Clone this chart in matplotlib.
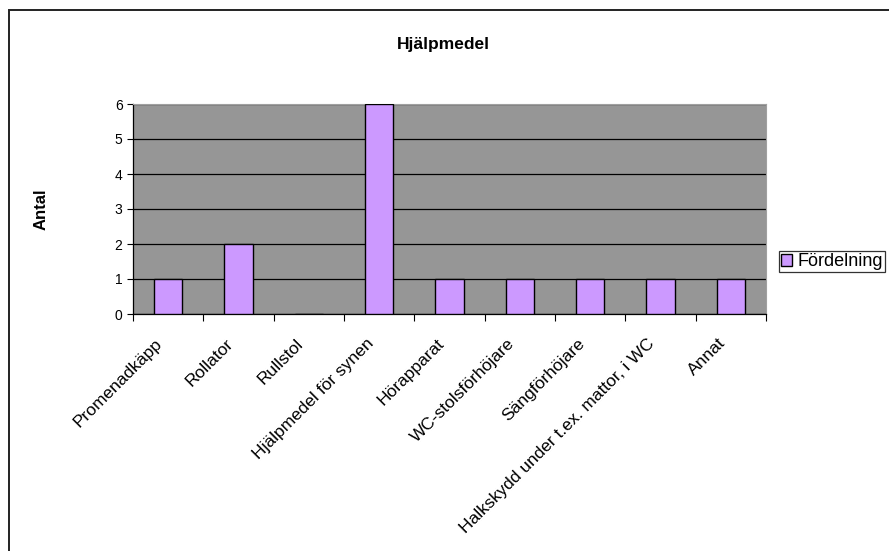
import matplotlib
matplotlib.use("Agg")
import matplotlib.pyplot as plt
from matplotlib.patches import Rectangle
from matplotlib.transforms import ScaledTranslation

categories = ["Promenadkäpp", "Rollator", "Rullstol", "Hjälpmedel för synen",
              "Hörapparat", "WC-stolsförhöjare", "Sängförhöjare",
              "Halkskydd under t.ex. mattor, i WC", "Annat"]
values = [1, 2, 0, 6, 1, 1, 1, 1, 1]
series_name = "Fördelning"
title = "Hjälpmedel"
ylabel = "Antal"
yticks = [0, 1, 2, 3, 4, 5, 6]

plt.rcParams['font.family'] = ['Liberation Sans', 'DejaVu Sans']

W, H = 889, 551
fig = plt.figure(figsize=(W / 100, H / 100), dpi=100)
fig.patch.set_facecolor("white")

# outer chart frame
fig.add_artist(Rectangle((9 / W, -0.05), 1.2, 1 - 10 / H + 0.05, transform=fig.transFigure,
                         fill=False, edgecolor="#222222", linewidth=1.4))

left, right, top, bottom = 133, 766, 104, 314
ax = fig.add_axes([left / W, 1 - bottom / H, (right - left) / W, (bottom - top) / H])
ax.set_facecolor("#969696")

x = list(range(len(categories)))
bars = ax.bar(x, values, width=0.4, color="#CC99FF", edgecolor="black", linewidth=1.0,
              label=series_name, zorder=3)
ax.set_xlim(-0.5, len(categories) - 0.5)
ax.set_ylim(0, 6)
ax.set_yticks(yticks)
ax.yaxis.grid(True, color="black", linewidth=0.9, zorder=1)
ax.set_axisbelow(True)

ax.set_xticks([i - 0.5 for i in range(len(categories) + 1)])
ax.set_xticklabels([])
ax.tick_params(axis="x", length=5, width=0.8, direction="out")
ax.tick_params(axis="y", length=4, width=0.8, direction="out", labelsize=10)

lab_tr = ax.get_xaxis_transform() + ScaledTranslation(-8 / 100, -27 / 100, fig.dpi_scale_trans)
for i, c in enumerate(categories):
    ax.text(i, 0, c, transform=lab_tr, rotation=45, rotation_mode="anchor",
            ha="right", va="center", fontsize=12.5, clip_on=False)

for s in ["top", "right"]:
    ax.spines[s].set_color("#a0a0a0")
    ax.spines[s].set_linewidth(0.8)
ax.spines["left"].set_color("black")
ax.spines["bottom"].set_color("black")
ax.spines["left"].set_linewidth(0.9)
ax.spines["bottom"].set_linewidth(0.9)

fig.text(443 / W, 1 - 45 / H, title, ha="center", va="center", fontsize=12.5, fontweight="bold")
fig.text(41 / W, 1 - 209 / H, ylabel, ha="center", va="center", rotation=90,
         fontsize=12, fontweight="bold")

leg = fig.legend(handles=[bars], labels=[series_name], loc="upper left",
                 bbox_to_anchor=(779 / W, 1 - 251 / H), bbox_transform=fig.transFigure,
                 frameon=True, fancybox=False, shadow=False, fontsize=13,
                 handlelength=0.6, handleheight=0.6, handletextpad=0.3,
                 borderpad=0.12, borderaxespad=0)
leg.get_frame().set_edgecolor("black")
leg.get_frame().set_linewidth(0.9)

fig.savefig("out.png", dpi=100)
